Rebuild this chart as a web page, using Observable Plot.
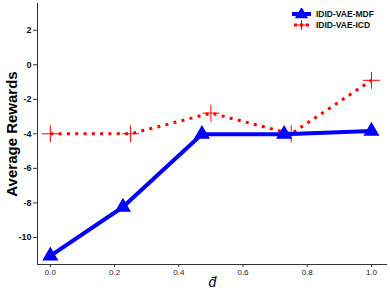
<!DOCTYPE html>
<html>
<head>
<meta charset="utf-8">
<script src="https://cdn.jsdelivr.net/npm/d3@7"></script>
<script src="https://cdn.jsdelivr.net/npm/@observablehq/plot@0.6"></script>
<style>
  html, body { margin: 0; padding: 0; background: #fff; }
  #chart { position: relative; width: 390px; height: 294px; font-family: "Liberation Sans", Arial, sans-serif; }
  #legend { position: absolute; left: 291px; top: 8px; font-size: 8.5px; font-weight: bold; color: #111; }
  .item { display: flex; align-items: center; height: 11.5px; }
  .item svg { margin-right: 4px; }
</style>
</head>
<body>
<div id="chart">
  <div id="legend"></div>
</div>
<script>
const mdfX = [0.0, 0.226, 0.472, 0.728, 1.0];
const mdfY = [-11.07, -8.24, -4.02, -4.02, -3.84];
const icdX = [0.0, 0.25, 0.5, 0.75, 1.0];
const icdY = [-4.0, -4.0, -2.8, -4.0, -0.9];
const yTicks = [2, 0, -2, -4, -6, -8, -10];
const xTicks = [0.0, 0.2, 0.4, 0.6, 0.8, 1.0];
const seriesNames = ["IDID-VAE-MDF", "IDID-VAE-ICD"];
const xDomain = [-0.04, 1.05];
const yDomain = [-11.57, 3.55];

const mdf = mdfX.map((x, i) => ({x, y: mdfY[i]}));
const icd = icdX.map((x, i) => ({x, y: icdY[i]}));

const plot = Plot.plot({
  width: 390,
  height: 294,
  marginLeft: 37,
  marginRight: 3,
  marginTop: 3,
  marginBottom: 30,
  style: {fontFamily: "'Liberation Sans', Arial, sans-serif", background: "white"},
  x: {domain: xDomain},
  y: {domain: yDomain},
  marks: [
    Plot.ruleX([xDomain[0]], {stroke: "#333", strokeWidth: 1}),
    Plot.ruleY([yDomain[0]], {stroke: "#333", strokeWidth: 1}),
    Plot.axisY({ticks: yTicks, tickSize: 4, tickPadding: 2, stroke: "#333", fontSize: 9, fontWeight: "bold", fill: "#111", label: null, tickFormat: d => d}),
    Plot.axisX({ticks: xTicks, tickSize: 3, tickPadding: 2, stroke: "#333", fontSize: 8, fill: "#222", label: null, tickFormat: d3.format(".1f")}),
    Plot.line(icd, {x: "x", y: "y", stroke: "#ff0000", strokeWidth: 3, strokeDasharray: "3,5.3", strokeLinecap: "butt", strokeLinejoin: "miter"}),
    Plot.dot(icd, {x: "x", y: "y", symbol: "plus", r: 5.5, stroke: "#ff0000", strokeWidth: 1}),
    Plot.line(mdf, {x: "x", y: "y", stroke: "#0000ff", strokeWidth: 4}),
    Plot.dot(mdf, {x: "x", y: "y", symbol: "triangle", r: 5, fill: "#0000ff", stroke: "#0000ff"}),
    Plot.text(["Average Rewards"], {frameAnchor: "left", textAnchor: "middle", dx: -25, rotate: -90, fontSize: 15, fontWeight: "bold", fill: "#000"}),
    Plot.text(["d\u0304"], {frameAnchor: "bottom", dy: 22, fontSize: 14, fontStyle: "italic", fill: "#000"})
  ]
});
document.getElementById("chart").prepend(plot);

// legend
const legend = d3.select("#legend");
const li1 = legend.append("div").attr("class", "item");
const s1 = li1.append("svg").attr("width", 21).attr("height", 12);
s1.append("line").attr("x1", 1).attr("x2", 20).attr("y1", 6).attr("y2", 6).attr("stroke", "#0000ff").attr("stroke-width", 4);
s1.append("path").attr("d", d3.symbol(d3.symbolTriangle, 75)()).attr("transform", "translate(10.5,6.5)").attr("fill", "#0000ff");
li1.append("span").text(seriesNames[0]);
const li2 = legend.append("div").attr("class", "item");
const s2 = li2.append("svg").attr("width", 21).attr("height", 12);
s2.append("line").attr("x1", 3).attr("x2", 18).attr("y1", 6).attr("y2", 6).attr("stroke", "#ff0000").attr("stroke-width", 3).attr("stroke-dasharray", "3,3");
s2.append("path").attr("d", "M10.5,1V11M5.5,6H15.5").attr("stroke", "#ff0000").attr("stroke-width", 1);
li2.append("span").text(seriesNames[1]);
</script>
</body>
</html>
